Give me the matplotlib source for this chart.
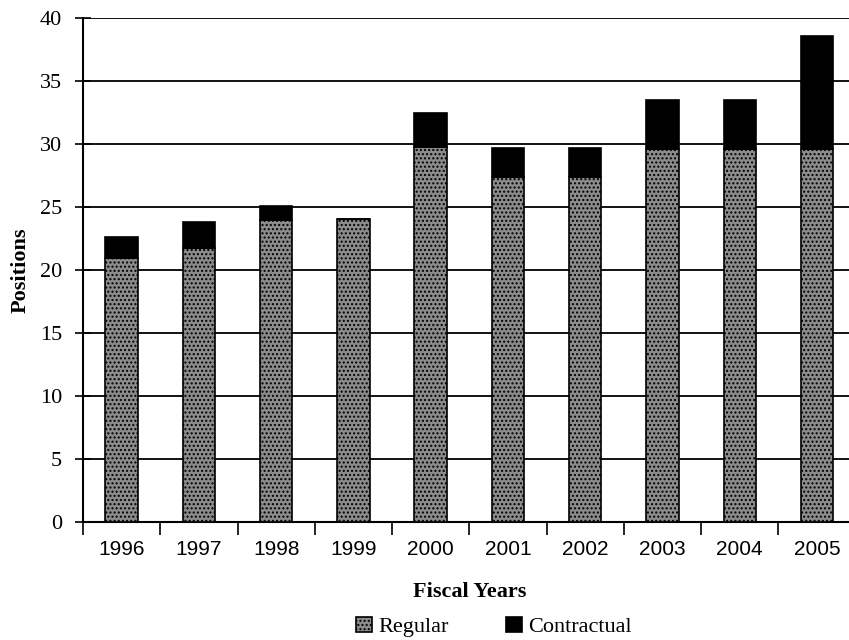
import matplotlib.pyplot as plt
import numpy as np

years = ['1996', '1997', '1998', '1999', '2000', '2001', '2002', '2003', '2004', '2005']
regular = [21.0, 21.8, 24.0, 24.1, 29.8, 27.4, 27.4, 29.6, 29.6, 29.6]
contractual = [1.6, 2.0, 1.1, 0.0, 2.7, 2.3, 2.3, 3.9, 3.9, 9.0]

plt.rcParams['hatch.color'] = 'black'
plt.rcParams['hatch.linewidth'] = 1.0

fig = plt.figure(figsize=(8.49, 6.4), dpi=100)
# axes run past the right edge of the figure, as in the scanned original
ax = fig.add_axes([0.0978, 0.184, 0.910, 0.7875])

x = np.arange(len(years))
w = 0.42
ax.bar(x, regular, w, facecolor='#8c8c8c', edgecolor='black', hatch='....',
       linewidth=1.2, zorder=3, label='Regular')
ax.bar(x, contractual, w, bottom=regular, facecolor='black', edgecolor='black',
       linewidth=1.2, zorder=3, label='Contractual')

ax.set_xlim(-0.5, 9.5)
ax.set_ylim(0, 40)
ax.set_yticks(range(0, 41, 5))
ax.yaxis.grid(True, color='black', linewidth=1.3, zorder=0)
ax.set_axisbelow(True)

# tick labels at category centres, tick marks at the boundaries
ax.set_xticks(x)
ax.set_xticklabels(years, family='Liberation Sans', fontsize=15)
ax.tick_params(axis='x', which='major', length=0, pad=13)
ax.set_xticks(np.arange(-0.5, 10, 1), minor=True)
ax.tick_params(axis='x', which='minor', length=9, width=1.2, direction='out')
ax.tick_params(axis='y', length=12, width=1.2, direction='inout', pad=9)
for t in ax.get_yticklabels():
    t.set_family('Liberation Serif')
    t.set_fontsize(16)

for s in ['top', 'right']:
    ax.spines[s].set_visible(False)
ax.spines['left'].set_linewidth(1.5)
ax.spines['bottom'].set_linewidth(1.5)

ax.set_ylabel('Positions', family='Liberation Serif', fontweight='bold',
              fontsize=16, labelpad=7)
ax.set_xlabel('Fiscal Years', family='Liberation Serif', fontweight='bold',
              fontsize=16, labelpad=16)

fig.legend(loc='center', bbox_to_anchor=(0.582, 0.02), ncol=2, frameon=False,
           prop={'family': 'Liberation Serif', 'size': 16}, handlelength=0.7,
           handleheight=0.7, handletextpad=0.3, columnspacing=2.6)

fig.savefig('out.png', dpi=100)
